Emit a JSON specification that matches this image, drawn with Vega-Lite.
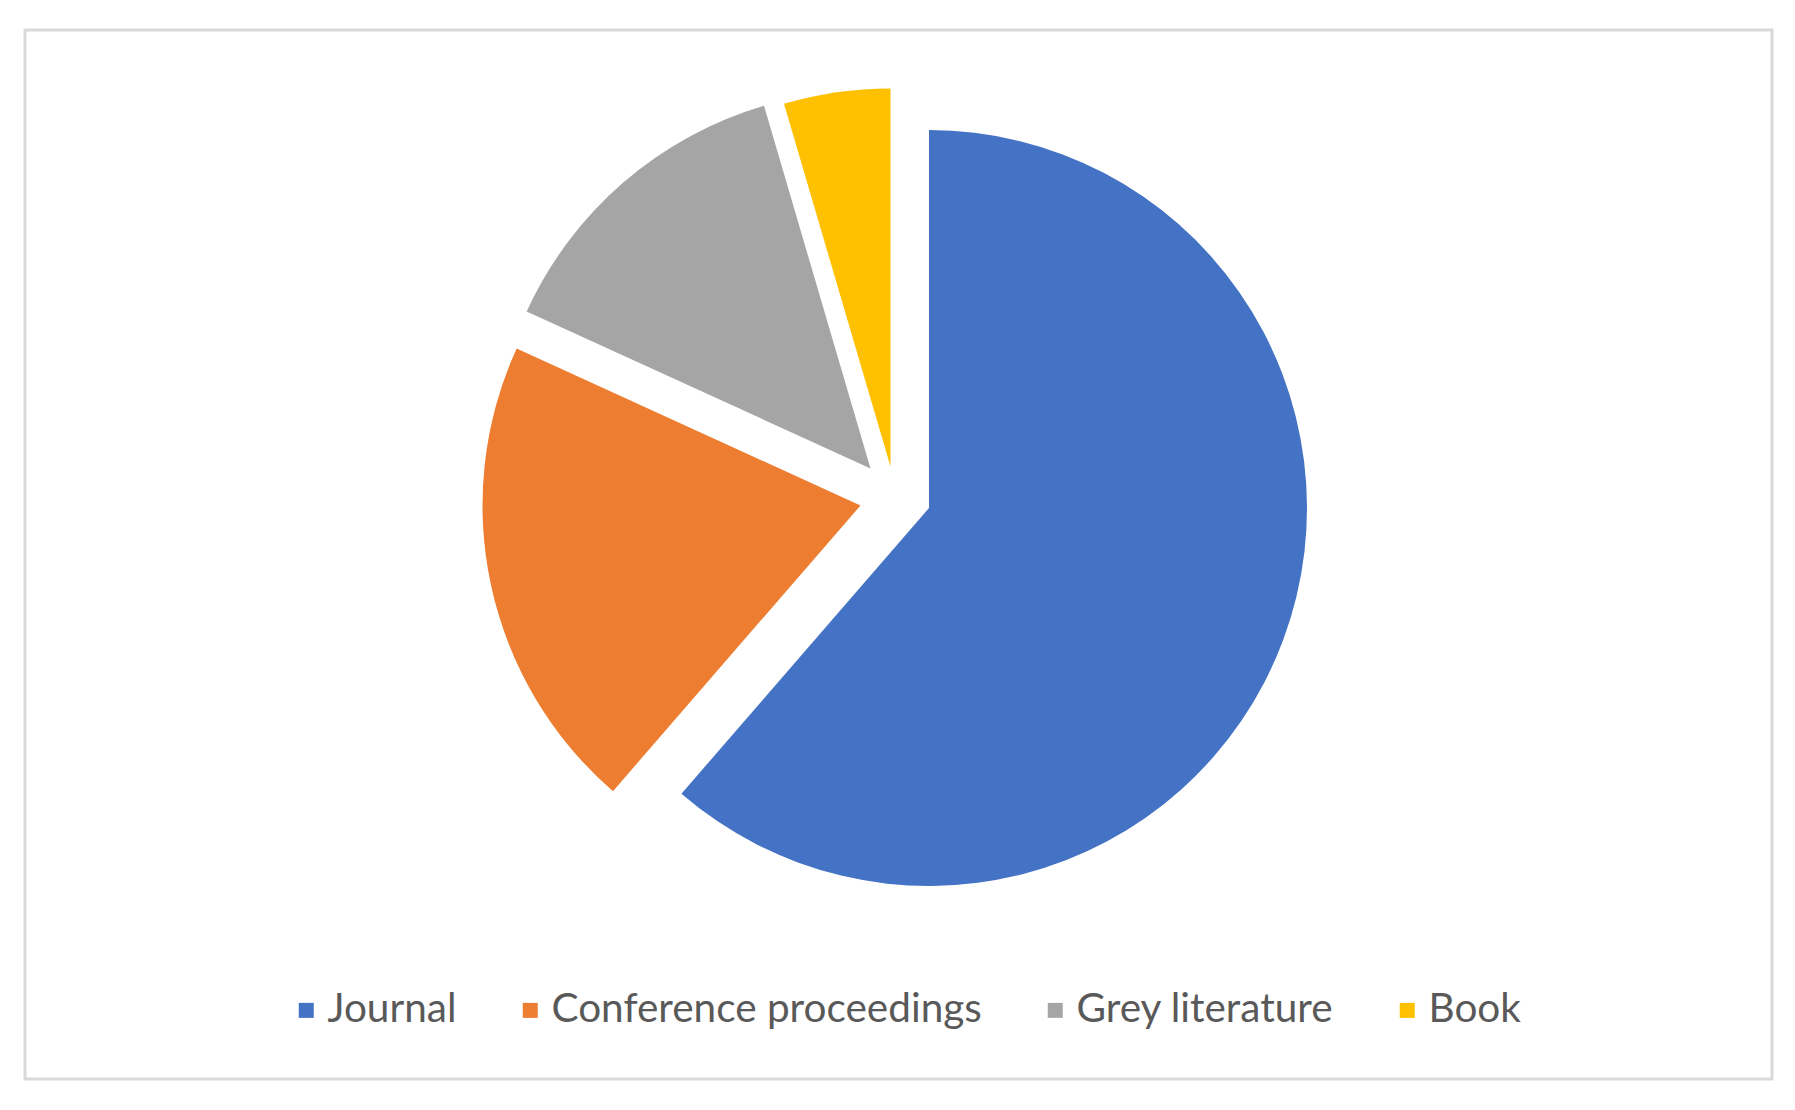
{
  "$schema": "https://vega.github.io/schema/vega-lite/v6.json",
  "width": 1747,
  "height": 1049,
  "autosize": "none",
  "padding": {"left": 25, "top": 30, "right": 23, "bottom": 31},
  "background": "white",
  "view": {"stroke": "#d9d9d9", "strokeWidth": 3, "fill": "white"},
  "config": {"view": {"stroke": "#d9d9d9", "strokeWidth": 3}},
  "data": {
    "values": [
      {"source": "Journal", "count": 27, "order": 1},
      {"source": "Conference proceedings", "count": 9, "order": 2},
      {"source": "Grey literature", "count": 6, "order": 3},
      {"source": "Book", "count": 2, "order": 4}
    ]
  },
  "transform": [
    {"stack": "count", "groupby": [], "offset": "normalize", "sort": [{"field": "order", "order": "ascending"}], "as": ["t0", "t1"]}
  ],
  "encoding": {
    "theta": {"field": "t0", "type": "quantitative", "stack": null, "scale": {"domain": [0, 1], "range": [0, 6.283185307]}},
    "theta2": {"field": "t1"},
    "color": {
      "field": "source",
      "type": "nominal",
      "scale": {
        "domain": ["Journal", "Conference proceedings", "Grey literature", "Book"],
        "range": ["#4472C4", "#ED7D31", "#A5A5A5", "#FFC000"]
      },
      "legend": {
        "title": null,
        "orient": "none",
        "direction": "horizontal",
        "legendX": 261,
        "legendY": 960,
        "padding": 0,
        "symbolType": "square",
        "symbolSize": 225,
        "symbolStrokeWidth": 0,
        "labelFont": "Lato",
        "labelFontSize": 40.5,
        "labelLimit": 0,
        "labelColor": "#595959",
        "labelOffset": 1,
        "columnPadding": 53
      }
    }
  },
  "layer": [
    {"transform": [{"filter": "datum.source === 'Journal'"}], "mark": {"type": "arc", "radius": 378, "xOffset": 30.5, "yOffset": -46.5}},
    {"transform": [{"filter": "datum.source === 'Conference proceedings'"}], "mark": {"type": "arc", "radius": 378, "xOffset": -38, "yOffset": -49}},
    {"transform": [{"filter": "datum.source === 'Grey literature'"}], "mark": {"type": "arc", "radius": 378, "xOffset": -28, "yOffset": -86}},
    {"transform": [{"filter": "datum.source === 'Book'"}], "mark": {"type": "arc", "radius": 378, "xOffset": -8, "yOffset": -88}}
  ]
}
